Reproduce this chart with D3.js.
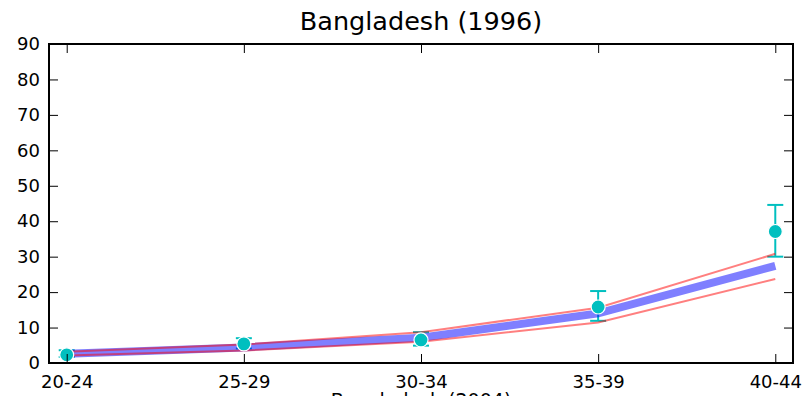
<!DOCTYPE html>
<html>
<head>
<meta charset="utf-8">
<script src="https://cdn.jsdelivr.net/npm/d3@7"></script>
<style>
  body { margin: 0; background: #fff; }
  svg { display: block; font-family: "DejaVu Sans", sans-serif; }
</style>
</head>
<body>
<div id="chart"></div>
<script>
// age groups on the x axis
const ageGroups = ["20-24", "25-29", "30-34", "35-39", "40-44"];
// observed points (2004) with error bar ends
const observed = [2.3, 5.4, 6.5, 15.8, 37.1];
const observedLow = [1.7, 4.1, 4.9, 11.9, 30.0];
const observedHigh = [3.6, 7.0, 8.7, 20.3, 44.6];
// model line and its band
const model = [2.6, 4.4, 7.1, 14.0, 27.4];
const modelLow = [2.1, 3.5, 6.0, 11.4, 23.7];
const modelHigh = [3.2, 5.2, 8.7, 15.6, 30.8];
const yTicks = [0, 10, 20, 30, 40, 50, 60, 70, 80, 90];

const titleText = "Bangladesh (1996)";
const xLabelText = "Bangladesh (2004)";

let dims = {
    width: 807,
    height: 396,
    margin: { left: 49, right: 14, top: 44, bottom: 33 }
};
dims.boundedWidth = dims.width - dims.margin.left - dims.margin.right;
dims.boundedHeight = dims.height - dims.margin.top - dims.margin.bottom;

const svg = d3.select("#chart")
    .append("svg")
    .attr("width", dims.width)
    .attr("height", dims.height);

const bounds = svg.append("g")
    .attr("transform", `translate(${dims.margin.left},${dims.margin.top})`);

const xScale = d3.scaleLinear()
    .domain([-0.1, ageGroups.length - 1 + 0.1])
    .range([0, dims.boundedWidth]);

const yScale = d3.scaleLinear()
    .domain([0, 90])
    .range([dims.boundedHeight, 0]);

const idx = d3.range(ageGroups.length);

// error bars
const teal = "#00bfbf";
const bars = bounds.append("g");
bars.selectAll(".ebar")
    .data(idx)
    .join("line")
    .attr("x1", i => xScale(i))
    .attr("x2", i => xScale(i))
    .attr("y1", i => yScale(observedLow[i]))
    .attr("y2", i => yScale(observedHigh[i]))
    .attr("stroke", teal)
    .attr("stroke-width", 2);
[observedLow, observedHigh].forEach(arr => {
    bars.selectAll(null)
        .data(idx)
        .join("line")
        .attr("x1", i => xScale(i) - 8)
        .attr("x2", i => xScale(i) + 8)
        .attr("y1", i => yScale(arr[i]))
        .attr("y2", i => yScale(arr[i]))
        .attr("stroke", teal)
        .attr("stroke-width", 2);
});

const line = d3.line()
    .x(i => xScale(i));

bounds.append("path")
    .datum(idx)
    .attr("d", line.y(i => yScale(model[i])))
    .attr("fill", "none")
    .attr("stroke", "blue")
    .attr("stroke-opacity", 0.5)
    .attr("stroke-width", 8);

[modelLow, modelHigh].forEach(arr => {
    bounds.append("path")
        .datum(idx)
        .attr("d", line.y(i => yScale(arr[i])))
        .attr("fill", "none")
        .attr("stroke", "red")
        .attr("stroke-opacity", 0.5)
        .attr("stroke-width", 2);
});

// points
bounds.selectAll(".pt")
    .data(idx)
    .join("circle")
    .attr("cx", i => xScale(i))
    .attr("cy", i => yScale(observed[i]))
    .attr("r", 7)
    .attr("fill", teal)
    .attr("stroke", "white")
    .attr("stroke-width", 1.2);

// axes, ticks pointing inward
const tickLen = 9;

const gX = bounds.append("g")
    .attr("transform", `translate(0,${dims.boundedHeight})`)
    .call(d3.axisBottom(xScale).tickValues(idx).tickFormat(i => ageGroups[i])
        .tickSizeInner(-tickLen).tickSizeOuter(0).tickPadding(12));
const gXTop = bounds.append("g")
    .call(d3.axisTop(xScale).tickValues(idx).tickFormat("")
        .tickSizeInner(-tickLen).tickSizeOuter(0));
const gY = bounds.append("g")
    .call(d3.axisLeft(yScale).tickValues(yTicks)
        .tickSizeInner(-tickLen).tickSizeOuter(0).tickPadding(9));
const gYRight = bounds.append("g")
    .attr("transform", `translate(${dims.boundedWidth},0)`)
    .call(d3.axisRight(yScale).tickValues(yTicks).tickFormat("")
        .tickSizeInner(-tickLen).tickSizeOuter(0));

[gX, gXTop, gY, gYRight].forEach(g => {
    g.select(".domain").remove();
    g.selectAll(".tick line").attr("stroke", "#000").attr("stroke-width", 1);
    g.selectAll(".tick text")
        .attr("fill", "#000")
        .style("font-size", "18px")
        .style("font-family", "DejaVu Sans, sans-serif");
});

// frame
bounds.append("rect")
    .attr("width", dims.boundedWidth)
    .attr("height", dims.boundedHeight)
    .attr("fill", "none")
    .attr("stroke", "#000")
    .attr("stroke-width", 2);

svg.append("text")
    .attr("x", dims.margin.left + dims.boundedWidth / 2)
    .attr("y", 30)
    .attr("text-anchor", "middle")
    .style("font-size", "25.5px")
    .text(titleText);

svg.append("text")
    .attr("x", dims.margin.left + dims.boundedWidth / 2)
    .attr("y", 407)
    .attr("text-anchor", "middle")
    .style("font-size", "19px")
    .text(xLabelText);
</script>
</body>
</html>
